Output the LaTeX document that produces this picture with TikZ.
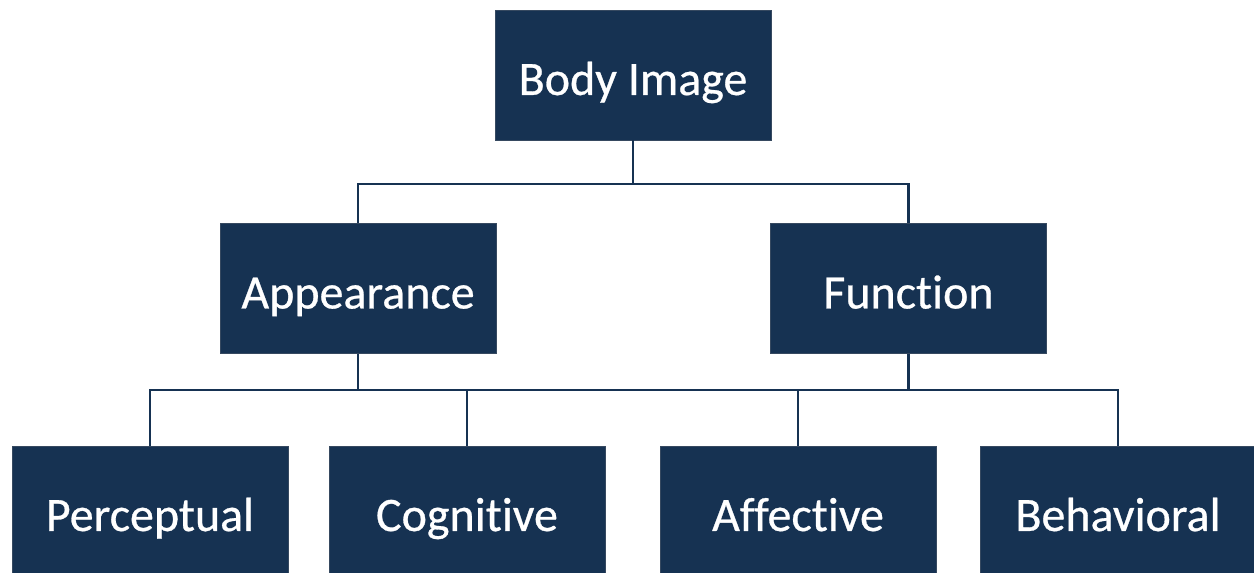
\documentclass[tikz,border=0pt]{standalone}
\usepackage{fontspec}
\setmainfont{Carlito}[Ligatures={NoCommon},FakeBold=0.6]
\definecolor{navy}{RGB}{22,50,82}
\begin{document}
\begin{tikzpicture}[x=1pt,y=1pt,
  box/.style={fill=navy,draw=navy!70!gray,line width=0.8pt,text=white,minimum width=276pt,minimum height=130pt,inner sep=0pt,text height=40pt,text depth=0pt,font=\fontsize{48}{58}\selectfont},
  link/.style={draw=navy,line width=2.6pt}]
\useasboundingbox (0,0) rectangle (1254,573);
\clip (0,0) rectangle (1254,573);
\node[box] (bi) at (633,498) {Body Image};
\node[box] (app) at (358,284.5) {Appearance};
\node[box] (fun) at (908.5,284.5) {Function};
\node[box] (per) at (150,62) {Perceptual};
\node[box] (cog) at (467,62) {Cognitive};
\node[box] (aff) at (798,62) {Affective};
\node[box] (beh) at (1118,62) {Behavioral};
\coordinate (j1) at (633,389);
\coordinate (j2) at (633,183);
\draw[link] (bi.south) -- (j1);
\draw[link] (app.north) -- (app.north |- j1) -- (fun.north |- j1) -- (fun.north);
\draw[link] (app.south) -- (app.south |- j2);
\draw[link] (fun.south) -- (fun.south |- j2);
\draw[link] (per.north) -- (per.north |- j2) -- (beh.north |- j2) -- (beh.north);
\draw[link] (cog.north) -- (cog.north |- j2);
\draw[link] (aff.north) -- (aff.north |- j2);
\end{tikzpicture}
\end{document}
